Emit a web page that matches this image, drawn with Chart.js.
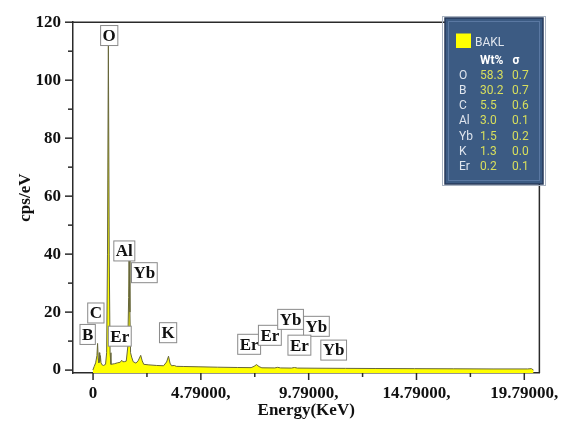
<!DOCTYPE html>
<html>
<head>
<meta charset="utf-8">
<script src="https://cdn.jsdelivr.net/npm/chart.js@4.4.0/dist/chart.umd.min.js"></script>
<style>
html, body { margin: 0; padding: 0; background: #fff; }
#wrap { width: 569px; height: 421px; }
</style>
</head>
<body>
<div id="wrap"><canvas id="edsChart"></canvas></div>
<script>
// EDS spectrum (energy in keV, counts in cps/eV)
const energy = [-0.22, -0.16, -0.09, -0.03, 0.00, 0.03, 0.06, 0.08, 0.10, 0.13, 0.16, 0.21, 0.28, 0.37, 0.42, 0.46, 0.50, 0.54, 0.58, 0.62,
  0.78, 0.92, 1.05, 1.12, 1.17, 1.24, 1.33, 1.40, 1.44, 1.46, 1.50, 1.53, 1.58, 1.65, 1.78, 1.88, 2.00, 2.07, 2.14, 2.38,
  2.74, 3.06, 3.20, 3.29, 3.36, 3.43, 3.56, 3.65, 3.97, 4.66, 5.57, 6.48, 7.12, 7.26, 7.37, 7.49, 7.62, 8.22, 8.35, 8.49,
  8.99, 9.13, 9.27, 10.13, 11.50, 12.87, 14.69, 16.52, 18.34, 19.94, 20.12, 20.22];
const counts = [0, 1.2, 2.5, 5, 9.2, 4, 2.5, 6, 3, 5, 2.5, 1.8, 1.6, 2.0, 6, 40, 114, 40, 6, 2.0,
  2.2, 2.5, 2.7, 3.4, 2.9, 2.9, 3.1, 8, 25, 38.8, 20, 6, 4.5, 2.9, 2.4, 3.2, 5.1, 3.2, 2.0, 1.8,
  1.6, 1.5, 2.8, 4.8, 2.4, 1.5, 1.6, 1.3, 1.25, 1.15, 1.0, 0.9, 0.85, 1.3, 1.9, 1.2, 0.8, 0.75, 0.95, 0.75,
  0.7, 0.9, 0.7, 0.65, 0.6, 0.55, 0.5, 0.45, 0.4, 0.4, 0.5, 0];

const xTicks = [-0.21, 2.29, 4.79, 7.29, 9.79, 12.29, 14.79, 17.29, 19.79];
const xTickLabels = ['0', '', '4.79000,', '', '9.79000,', '', '14.79000,', '', '19.79000,'];
const yTicks = [0, 10, 20, 30, 40, 50, 60, 70, 80, 90, 100, 110, 120];
const yTickLabels = ['0', '', '20', '', '40', '', '60', '', '80', '', '100', '', '120'];

// peak labels (placed in data coordinates)
const peakNames = ['O', 'Al', 'Yb', 'C', 'B', 'Er', 'K', 'Er', 'Er', 'Yb', 'Yb', 'Er', 'Yb'];
const peakX = [0.54, 1.24, 2.17, -0.08, -0.46, 1.03, 3.27, 7.03, 7.99, 8.95, 10.15, 9.36, 10.95];
const peakY = [115.4, 41.1, 33.6, 19.7, 12.3, 11.7, 12.9, 8.9, 12.0, 17.5, 15.1, 8.6, 6.9];

// quantification table
const sampleName = 'BAKL';
const elements = ['O', 'B', 'C', 'Al', 'Yb', 'K', 'Er'];
const wtPercent = ['58.3', '30.2', '5.5', '3.0', '1.5', '1.3', '0.2'];
const sigma = ['0.7', '0.7', '0.6', '0.1', '0.2', '0.0', '0.1'];

const serif = 'Liberation Serif, Times New Roman, serif';
const axisColor = '#2a2a2a';

const decor = {
  id: 'decor',
  afterDatasetsDraw(chart) {
    const ctx = chart.ctx;
    const x = chart.scales.x, y = chart.scales.y;
    const a = chart.chartArea;
    ctx.save();
    ctx.strokeStyle = axisColor;
    ctx.lineWidth = 1.5;
    // top and right frame
    ctx.beginPath();
    ctx.moveTo(a.left, a.top);
    ctx.lineTo(a.right, a.top);
    ctx.lineTo(a.right, a.bottom);
    ctx.stroke();
    // tick marks, outward
    xTicks.forEach((v, i) => {
      const px = x.getPixelForValue(v);
      const len = i % 2 === 0 ? 7 : 4;
      ctx.beginPath();
      ctx.moveTo(px, a.bottom);
      ctx.lineTo(px, a.bottom + len);
      ctx.stroke();
    });
    yTicks.forEach((v, i) => {
      const py = y.getPixelForValue(v);
      const len = i % 2 === 0 ? 8 : 5;
      ctx.beginPath();
      ctx.moveTo(a.left, py);
      ctx.lineTo(a.left - len, py);
      ctx.stroke();
    });

    // peak label boxes
    ctx.font = 'bold 17px ' + serif;
    ctx.textAlign = 'center';
    ctx.textBaseline = 'middle';
    peakNames.forEach((name, i) => {
      const cx = x.getPixelForValue(peakX[i]);
      const cy = y.getPixelForValue(peakY[i]);
      const w = ctx.measureText(name).width + 4;
      const h = 20;
      ctx.fillStyle = '#fff';
      ctx.fillRect(cx - w / 2, cy - h / 2, w, h);
      ctx.strokeStyle = '#8a8a8a';
      ctx.lineWidth = 1;
      ctx.strokeRect(cx - w / 2, cy - h / 2, w, h);
      ctx.fillStyle = '#111';
      ctx.fillText(name, cx, cy + 1);
    });

    // results panel
    const pl = 445, pt = 18, pw = 98, ph = 166;
    ctx.strokeStyle = '#aab4c2';
    ctx.lineWidth = 1;
    ctx.strokeRect(pl - 2.5, pt - 1.5, pw + 5, ph + 3);
    ctx.fillStyle = '#3c5b83';
    ctx.fillRect(pl, pt, pw, ph);
    ctx.strokeStyle = '#26395a';
    ctx.lineWidth = 1.5;
    ctx.strokeRect(pl, pt, pw, ph);
    ctx.strokeStyle = '#5a78a2';
    ctx.lineWidth = 1;
    ctx.strokeRect(pl + 3.5, pt + 3.5, pw - 7, ph - 7);

    ctx.fillStyle = '#ffff00';
    ctx.fillRect(456, 33.5, 15, 14.5);
    ctx.textAlign = 'left';
    ctx.textBaseline = 'middle';
    ctx.font = '12px Roboto, sans-serif';
    ctx.fillStyle = '#dfe5ee';
    ctx.fillText(sampleName, 475, 42.5);
    ctx.font = 'bold 12px Roboto, sans-serif';
    ctx.fillStyle = '#ffffff';
    ctx.fillText('Wt%', 480, 60.5);
    ctx.fillText('σ', 512.5, 60.5);
    ctx.font = '12px Roboto, sans-serif';
    elements.forEach((el, i) => {
      const ry = 76 + i * 15.15;
      ctx.fillStyle = '#dfe5ee';
      ctx.fillText(el, 459, ry);
      ctx.fillStyle = '#d8df5c';
      ctx.fillText(wtPercent[i], 480, ry);
      ctx.fillText(sigma[i], 512, ry);
    });
    ctx.restore();
  }
};

new Chart(document.getElementById('edsChart'), {
  type: 'line',
  data: {
    datasets: [{
      data: energy.map((e, i) => ({ x: e, y: counts[i] })),
      borderColor: '#66663a',
      borderWidth: 1,
      backgroundColor: '#ffff00',
      fill: 'start',
      pointRadius: 0,
      tension: 0
    }]
  },
  options: {
    responsive: true,
    maintainAspectRatio: false,
    animation: false,
    layout: { padding: { top: 18, right: 22, left: 0, bottom: 0 } },
    plugins: { legend: { display: false }, tooltip: { enabled: false } },
    scales: {
      x: {
        type: 'linear',
        min: -1.14,
        max: 20.49,
        afterBuildTicks: s => { s.ticks = xTicks.map(v => ({ value: v })); },
        afterFit: s => { s.height = 48; },
        grid: { display: false, drawTicks: false },
        border: { display: true, color: axisColor, width: 1.5 },
        ticks: {
          autoSkip: false, maxRotation: 0, minRotation: 0, padding: 10,
          color: '#111',
          font: { family: serif, size: 17, weight: 'bold' },
          callback: (v, i) => xTickLabels[i]
        },
        title: {
          display: true, text: 'Energy(KeV)', color: '#111',
          font: { family: serif, size: 17, weight: 'bold' },
          padding: { top: 0, bottom: 0 }
        }
      },
      y: {
        type: 'linear',
        min: -1,
        max: 120,
        afterBuildTicks: s => { s.ticks = yTicks.map(v => ({ value: v })); },
        afterFit: s => { s.width = 73; },
        grid: { display: false, drawTicks: false },
        border: { display: true, color: axisColor, width: 1.5 },
        ticks: {
          autoSkip: false, padding: 12,
          color: '#111',
          font: { family: serif, size: 17, weight: 'bold' },
          callback: (v, i) => yTickLabels[i]
        },
        title: {
          display: true, text: 'cps/eV', color: '#111',
          font: { family: serif, size: 17, weight: 'bold' },
          padding: { top: 15, bottom: 0 }
        }
      }
    }
  },
  plugins: [decor]
});
</script>
</body>
</html>
